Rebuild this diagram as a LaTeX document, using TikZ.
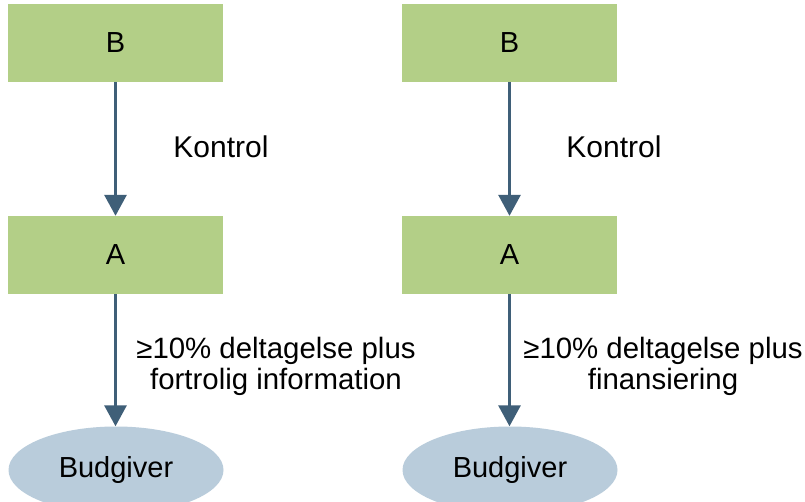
\documentclass[tikz,border=0pt]{standalone}
\usepackage{fontspec}
\setmainfont{Liberation Sans}
\usetikzlibrary{shapes.geometric,arrows.meta}
\definecolor{boxgreen}{HTML}{B3CF87}
\definecolor{arrowblue}{HTML}{3F5F78}
\definecolor{ellblue}{HTML}{B9CCDB}
\tikzset{
  greenbox/.style={rectangle, fill=boxgreen, minimum width=215pt, minimum height=78pt, inner sep=0pt, font=\fontsize{29}{31}\selectfont},
  bidder/.style={ellipse, fill=ellblue, minimum width=215pt, minimum height=87pt, inner sep=0pt, font=\fontsize{29}{31}\selectfont},
  conn/.style={draw=arrowblue, line width=3pt, -{Triangle[width=22pt,length=21pt]}},
  lbl/.style={align=center, inner sep=0pt, font=\fontsize{29.4}{31}\selectfont},
  ctrl/.style={inner sep=0pt, font=\fontsize{30}{31}\selectfont}
}
\begin{document}
\begin{tikzpicture}[x=1pt,y=1pt]
\clip (0,0) rectangle (805,-501);
\fill[white] (0,0) rectangle (805,-501);
% left column
\node[greenbox] (B1) at (115.5,-43) {B};
\node[greenbox] (A1) at (115.5,-255) {A};
\node[bidder] (E1) at (116,-470) {Budgiver};
\draw[conn] (B1) -- (A1);
\draw[conn] (A1.south) -- (A1.south |- E1.north);
\node[ctrl] (K1) at (221,-147) {Kontrol};
\node[lbl] (L1) at (276,-366) {≥10\% deltagelse plus\\fortrolig information};
% right column
\node[greenbox] (B2) at (509.5,-43) {B};
\node[greenbox] (A2) at (509.5,-255) {A};
\node[bidder] (E2) at (510,-470) {Budgiver};
\draw[conn] (B2) -- (A2);
\draw[conn] (A2.south) -- (A2.south |- E2.north);
\node[ctrl] (K2) at (614,-147) {Kontrol};
\node[lbl] (L2) at (663,-366) {≥10\% deltagelse plus\\finansiering};
\end{tikzpicture}
\end{document}
